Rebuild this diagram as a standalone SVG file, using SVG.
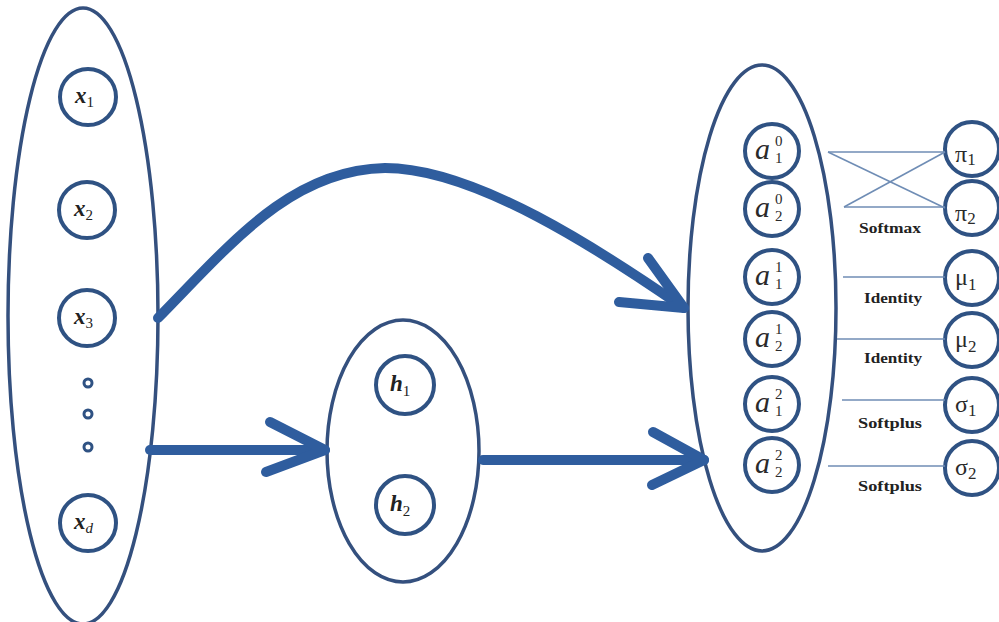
<svg xmlns="http://www.w3.org/2000/svg" width="999" height="622" viewBox="0 0 999 622">
<style>
.big{fill:none;stroke:#34507e;stroke-width:3.5}
.nd{fill:none;stroke:#2f5283;stroke-width:4}
.dot{fill:none;stroke:#2f5283;stroke-width:3}
.arr{fill:none;stroke:#2f5d9e;stroke-width:10;stroke-linecap:round;stroke-linejoin:round}
.thin{fill:none;stroke:#6f8db5;stroke-width:1.6}
.v{font-family:"Liberation Serif",serif;font-style:italic;font-weight:bold;font-size:23px;fill:#222}
.vs{font-family:"Liberation Serif",serif;font-style:normal;font-weight:normal;font-size:15px;fill:#222}
.a{font-family:"Liberation Serif",serif;font-style:italic;font-size:30px;fill:#2a2a2a}
.as{font-family:"Liberation Serif",serif;font-size:15px;fill:#2a2a2a}
.g{font-family:"Liberation Serif",serif;font-size:24px;fill:#2a2a2a}
.gs{font-family:"Liberation Serif",serif;font-size:17px;fill:#2a2a2a}
.lab{font-family:"Liberation Serif",serif;font-weight:bold;font-size:14px;fill:#222;text-anchor:middle}
</style>
<rect width="999" height="622" fill="#fff"/>
<g id="input-layer">
<ellipse class="big" cx="83" cy="316" rx="75" ry="308"/>
</g>
<g id="x1"><circle class="nd" cx="88" cy="97" r="28"/><text class="v" x="75" y="103">x<tspan class="vs" dy="4">1</tspan></text></g>
<g id="x2"><circle class="nd" cx="87" cy="210" r="28"/><text class="v" x="74" y="216">x<tspan class="vs" dy="4">2</tspan></text></g>
<g id="x3"><circle class="nd" cx="87" cy="318" r="28"/><text class="v" x="74" y="324">x<tspan class="vs" dy="4">3</tspan></text></g>
<g id="dots"><circle class="dot" cx="88" cy="383" r="4"/><circle class="dot" cx="88" cy="414" r="4"/><circle class="dot" cx="88" cy="447" r="4"/></g>
<g id="xd"><circle class="nd" cx="88" cy="523" r="28"/><text class="v" x="74" y="529">x<tspan class="vs" dy="4" style="font-style:italic">d</tspan></text></g>
<g id="hidden-layer"><ellipse class="big" cx="403" cy="451" rx="76" ry="131"/></g>
<g id="h1"><circle class="nd" cx="405" cy="385" r="29"/><text class="v" x="390" y="391">h<tspan class="vs" dy="5">1</tspan></text></g>
<g id="h2"><circle class="nd" cx="405" cy="505" r="29"/><text class="v" x="390" y="511">h<tspan class="vs" dy="5">2</tspan></text></g>
<g id="output-layer"><ellipse class="big" cx="762" cy="308" rx="74" ry="243"/></g>
<g id="a10"><circle class="nd" cx="772" cy="151" r="27"/><text class="a" x="755" y="159">a</text><text class="as" x="775" y="146">0</text><text class="as" x="775" y="163">1</text></g>
<g id="a20"><circle class="nd" cx="772" cy="209" r="27"/><text class="a" x="755" y="217">a</text><text class="as" x="775" y="204">0</text><text class="as" x="775" y="221">2</text></g>
<g id="a11"><circle class="nd" cx="772" cy="277" r="27"/><text class="a" x="755" y="285">a</text><text class="as" x="775" y="272">1</text><text class="as" x="775" y="289">1</text></g>
<g id="a21"><circle class="nd" cx="772" cy="339" r="27"/><text class="a" x="755" y="347">a</text><text class="as" x="775" y="334">1</text><text class="as" x="775" y="351">2</text></g>
<g id="a12"><circle class="nd" cx="772" cy="404" r="27"/><text class="a" x="755" y="412">a</text><text class="as" x="775" y="399">2</text><text class="as" x="775" y="416">1</text></g>
<g id="a22"><circle class="nd" cx="772" cy="465" r="27"/><text class="a" x="755" y="473">a</text><text class="as" x="775" y="460">2</text><text class="as" x="775" y="477">2</text></g>
<g id="pi1"><circle class="nd" cx="972" cy="149" r="27"/><text class="g" x="955" y="162">π<tspan class="gs" dy="3">1</tspan></text></g>
<g id="pi2"><circle class="nd" cx="972" cy="208" r="27"/><text class="g" x="955" y="221">π<tspan class="gs" dy="3">2</tspan></text></g>
<g id="mu1"><circle class="nd" cx="972" cy="278" r="27"/><text class="g" x="955" y="285">μ<tspan class="gs" dy="5">1</tspan></text></g>
<g id="mu2"><circle class="nd" cx="972" cy="340" r="27"/><text class="g" x="955" y="347">μ<tspan class="gs" dy="5">2</tspan></text></g>
<g id="sigma1"><circle class="nd" cx="972" cy="405" r="27"/><text class="g" x="955" y="412">σ<tspan class="gs" dy="4">1</tspan></text></g>
<g id="sigma2"><circle class="nd" cx="972" cy="468" r="27"/><text class="g" x="955" y="475">σ<tspan class="gs" dy="4">2</tspan></text></g>
<g id="connectors">
<path class="arr" d="M158,318 C230,245 290,170 385,168 C475,168 600,250 684,308"/>
<path class="arr" d="M648,258 L684,308 L619,302"/>
<path class="arr" d="M150,450 L325,450"/>
<path class="arr" d="M270,422 L325,450 L266,472"/>
<path class="arr" d="M483,460 L704,460"/>
<path class="arr" d="M653,432 L704,460 L652,485"/>
<line class="thin" x1="828" y1="152" x2="945" y2="152"/>
<line class="thin" x1="828" y1="152" x2="945" y2="208"/>
<line class="thin" x1="844" y1="207" x2="945" y2="152"/>
<line class="thin" x1="844" y1="207" x2="945" y2="207"/>
<line class="thin" x1="843" y1="277" x2="945" y2="277"/>
<line class="thin" x1="837" y1="339" x2="945" y2="339"/>
<line class="thin" x1="842" y1="400" x2="945" y2="400"/>
<line class="thin" x1="828" y1="466" x2="945" y2="466"/>
</g>
<g id="labels">
<text class="lab" x="890" y="233" textLength="62" lengthAdjust="spacingAndGlyphs">Softmax</text>
<text class="lab" x="893" y="303" textLength="58" lengthAdjust="spacingAndGlyphs">Identity</text>
<text class="lab" x="893" y="363" textLength="58" lengthAdjust="spacingAndGlyphs">Identity</text>
<text class="lab" x="890" y="428" textLength="64" lengthAdjust="spacingAndGlyphs">Softplus</text>
<text class="lab" x="890" y="491" textLength="64" lengthAdjust="spacingAndGlyphs">Softplus</text>
</g>
</svg>
